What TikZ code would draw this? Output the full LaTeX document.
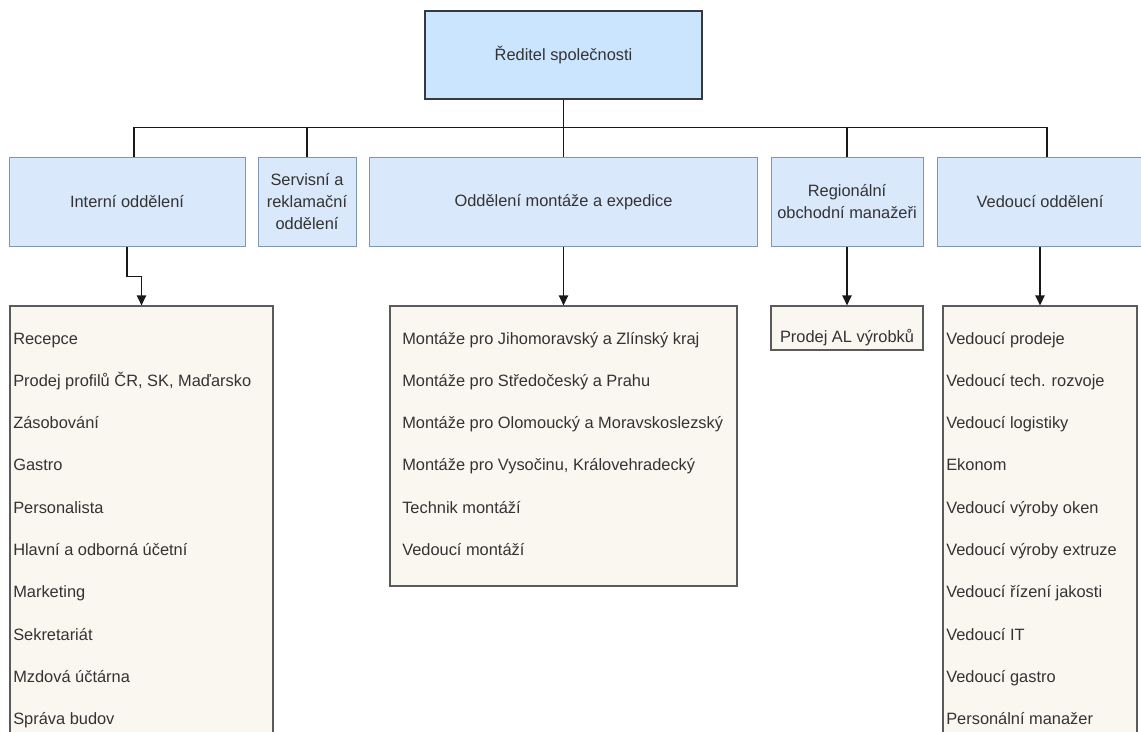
\documentclass[tikz,border=0pt]{standalone}
\usepackage{fontspec}
\setmainfont{Liberation Sans}
\usetikzlibrary{arrows.meta}
\definecolor{dirfill}{HTML}{CCE5FF}
\definecolor{dirline}{HTML}{36393D}
\definecolor{depfill}{HTML}{DAE8FC}
\definecolor{depline}{HTML}{7F97B5}
\definecolor{listfill}{HTML}{F9F7F0}
\definecolor{listline}{HTML}{5A5A5A}
\definecolor{txt}{HTML}{333333}
\begin{document}
\begin{tikzpicture}[x=0.75pt,y=-0.75pt,
  every node/.style={font=\fontsize{12.3}{16.5}\selectfont, text=txt},
  dirbox/.style={draw=dirline, fill=dirfill, line width=0.9pt, inner sep=0pt, minimum height=66pt},
  depbox/.style={draw=depline, fill=depfill, line width=0.75pt, inner sep=0pt, align=center, minimum height=66pt},
  listbox/.style={draw=listline, fill=listfill, line width=0.9pt, inner sep=0pt},
  item/.style={anchor=base west, inner sep=0pt},
  conn/.style={draw=black!90, line width=0.9pt},
  arr/.style={conn, -{Triangle[length=7.5pt,width=7pt]}}
]
\useasboundingbox (0,0) rectangle (1141,731);
\clip (0,0) rectangle (1141,731);
\fill[white] (0,0) rectangle (1141,731);

% top level
\node[dirbox, minimum width=207.75pt] (dir) at (563.5,55) {Ředitel společnosti};

% departments
\node[depbox, minimum width=177pt] (int) at (127,202) {Interní oddělení};
\node[depbox, minimum width=73.5pt] (ser) at (307,202) {Servisní a\\reklamační\\oddělení};
\node[depbox, minimum width=291pt] (odd) at (563.5,202) {Oddělení montáže a expedice};
\node[depbox, minimum width=114pt] (reg) at (847,202) {Regionální\\obchodní manažeři};
\node[depbox, minimum width=154.5pt] (ved) at (1040,202) {Vedoucí oddělení};

% list boxes
\node[listbox, minimum width=197.25pt, minimum height=325.5pt] (l1) at (141.5,523) {};
\node[listbox, minimum width=260.25pt, minimum height=210pt] (l2) at (563.5,446) {};
\node[listbox, minimum width=114pt, minimum height=33pt] (l3) at (847,328) {};
\node[listbox, minimum width=145.5pt, minimum height=325.5pt] (l4) at (1040,523) {};

\node[inner sep=0pt] (l3t) at (847,338) {Prodej AL výrobků};

\foreach \t [count=\i from 0] in {Recepce,{Prodej profilů ČR, SK, Maďarsko},Zásobování,Gastro,Personalista,Hlavní a odborná účetní,Marketing,Sekretariát,Mzdová účtárna,Správa budov}
  \node[item] (a\i) at (13,344+42.3*\i) {\t};

\foreach \t [count=\i from 0] in {Montáže pro Jihomoravský a Zlínský kraj,Montáže pro Středočeský a Prahu,Montáže pro Olomoucký a Moravskoslezský,{Montáže pro Vysočinu, Královehradecký},Technik montáží,Vedoucí montáží}
  \node[item] (b\i) at (402,344+42.3*\i) {\t};

\foreach \t [count=\i from 0] in {Vedoucí prodeje,Vedoucí tech. rozvoje,Vedoucí logistiky,Ekonom,Vedoucí výroby oken,Vedoucí výroby extruze,Vedoucí řízení jakosti,Vedoucí IT,Vedoucí gastro,Personální manažer}
  \node[item] (c\i) at (946,344+42.3*\i) {\t};

% connectors
\coordinate (bus) at (0,128);
\draw[conn] (dir.south) -- (odd.north);
\draw[conn] ([xshift=5.25pt]int.north) -- ++(0,-30) -| ([xshift=5.25pt]ved.north);
\draw[conn] (ser.north) -- (ser.north |- bus);
\draw[conn] (reg.north) -- (reg.north |- bus);

\draw[arr] (int.south) -- ++(0,30) -| (l1.north);
\draw[arr] (odd.south) -- (l2.north);
\draw[arr] (reg.south) -- (l3.north);
\draw[arr] (ved.south) -- (l4.north);
\end{tikzpicture}
\end{document}
